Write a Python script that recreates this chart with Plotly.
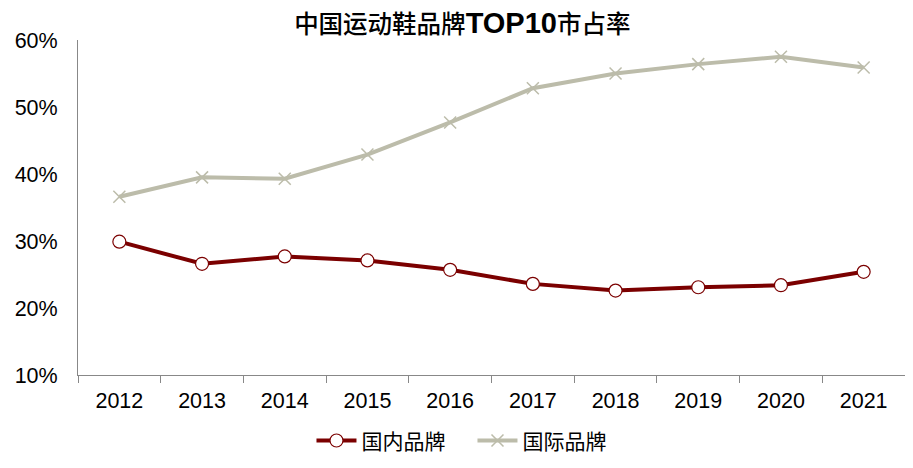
import plotly.graph_objects as go

years = ["2012", "2013", "2014", "2015", "2016", "2017", "2018", "2019", "2020", "2021"]
domestic = [29.9, 26.6, 27.7, 27.1, 25.7, 23.6, 22.6, 23.1, 23.4, 25.4]
international = [36.6, 39.5, 39.3, 42.9, 47.7, 52.8, 55.0, 56.4, 57.5, 55.9]

maroon = "#7B0000"
gray = "#BCBCAA"

fig = go.Figure()
fig.add_trace(go.Scatter(
    x=years, y=domestic, name="国内品牌", mode="lines+markers",
    line=dict(color=maroon, width=4),
    marker=dict(symbol="circle", size=13, color="white", line=dict(color=maroon, width=1.2)),
))
fig.add_trace(go.Scatter(
    x=years, y=international, name="国际品牌", mode="lines+markers",
    line=dict(color=gray, width=4),
    marker=dict(symbol="x-thin-open", size=12, color=gray, line=dict(color=gray, width=1.5)),
))

title_text = ("<span style='font-family:Noto Sans CJK SC;font-weight:500'>中国运动鞋品牌</span>"
              "<b><span style='font-size:29px'>TOP10</span></b>"
              "<span style='font-family:Noto Sans CJK SC;font-weight:500'>市占率</span>")

fig.update_layout(
    width=905, height=460,
    margin=dict(l=70, r=8, t=32, b=93, autoexpand=False),
    paper_bgcolor="white", plot_bgcolor="white",
    title=dict(text=title_text, x=0.502, xanchor="center",
               yref="container", y=0.965, yanchor="middle",
               font=dict(family="Liberation Sans, Noto Sans CJK SC", size=24.5, color="black")),
    font=dict(family="Liberation Sans, Arial, Noto Sans CJK SC", size=21.5, color="black"),
    xaxis=dict(type="category", showline=True, linecolor="#888888", linewidth=1,
               ticks="outside", tickson="boundaries", ticklen=7, tickcolor="#888888",
               showgrid=False, tickfont=dict(size=21.5), range=[-0.5, 9.5],
               ticklabelstandoff=6, automargin=False),
    yaxis=dict(range=[10, 60], dtick=10, ticksuffix="%", showline=True, linecolor="#888888",
               linewidth=1, showgrid=False, zeroline=False, ticks="", tickfont=dict(size=21.5),
               ticklabelstandoff=15, automargin=False),
    legend=dict(orientation="h", x=0.477, xanchor="center", yref="container", y=0.059,
                yanchor="middle", font=dict(family="Noto Sans CJK SC", size=21), itemwidth=40,
                entrywidth=106, entrywidthmode="pixels"),
)

fig.write_html("out.html")
